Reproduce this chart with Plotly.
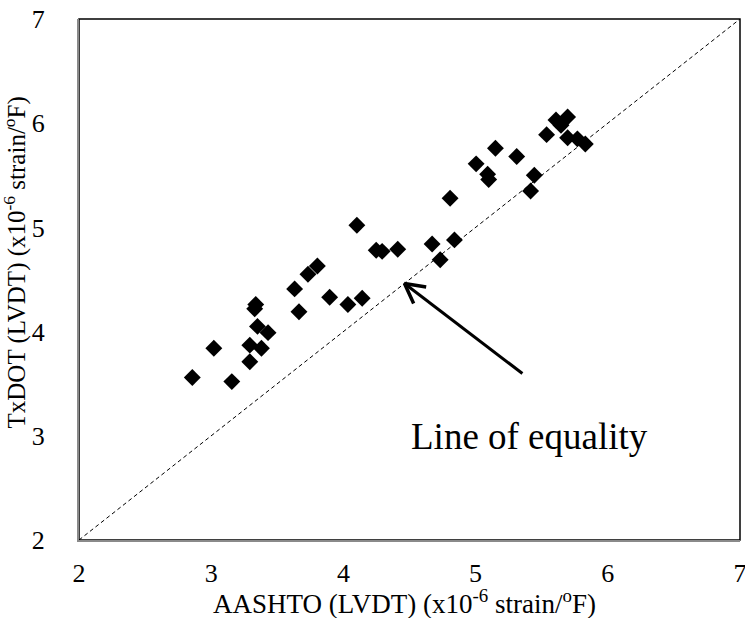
import math
import plotly.graph_objects as go

# Measured data (x10^-6 strain/°F)
aashto = [2.857, 3.156, 3.020, 3.292, 3.292, 3.380, 3.350, 3.430, 3.337, 3.329,
          3.631, 3.664, 3.732, 3.803, 3.896, 4.034, 4.142, 4.102, 4.248, 4.293,
          4.411, 4.671, 4.732, 4.840, 4.807, 5.004, 5.091, 5.099, 5.150, 5.311,
          5.416, 5.444, 5.537, 5.608, 5.646, 5.696, 5.696, 5.770, 5.830]
txdot = [3.56, 3.52, 3.84, 3.71, 3.87, 3.84, 4.05, 3.99, 4.26, 4.22,
         4.41, 4.19, 4.55, 4.63, 4.33, 4.26, 4.32, 5.02, 4.78, 4.77,
         4.79, 4.84, 4.69, 4.88, 5.28, 5.61, 5.51, 5.46, 5.76, 5.68,
         5.35, 5.50, 5.89, 6.03, 5.98, 6.06, 5.86, 5.85, 5.80]

equality_x = [2, 7]
equality_y = [2, 7]

arrow_x = [5.354, 4.462]   # tail -> head
arrow_y = [3.598, 4.462]

label_text = "Line of equality"
label_x = 5.41
label_y = 2.99

tick_vals = [2, 3, 4, 5, 6, 7]
x_title = "AASHTO (LVDT) (x10<sup>-6</sup> strain/<sup>o</sup>F)"
y_title = "TxDOT (LVDT) (x10<sup>-6</sup> strain/<sup>o</sup>F)"

FONT = "Liberation Serif, Times New Roman, serif"

W, H = 745, 618
ML, MR, MT, MB = 79, 5, 19, 78
XR = [2, 7]
YR = [2, 7]
px_per_x = (W - ML - MR) / (XR[1] - XR[0])
px_per_y = (H - MT - MB) / (YR[1] - YR[0])

fig = go.Figure()

fig.add_trace(go.Scatter(
    x=equality_x, y=equality_y, mode="lines",
    line=dict(color="black", width=1, dash="4px,3px"),
    hoverinfo="skip", showlegend=False))

fig.add_trace(go.Scatter(
    x=aashto, y=txdot, mode="markers",
    marker=dict(symbol="diamond", size=13, color="black"),
    showlegend=False))

# arrow shaft
fig.add_trace(go.Scatter(
    x=arrow_x, y=arrow_y, mode="lines",
    line=dict(color="black", width=3),
    hoverinfo="skip", showlegend=False))

# open chevron arrow head, built from the shaft direction in screen space
dxp = (arrow_x[0] - arrow_x[1]) * px_per_x
dyp = (arrow_y[0] - arrow_y[1]) * px_per_y
ang = math.atan2(dyp, dxp)
wing_len = 22
half = math.radians(28)
wx, wy = [], []
for s in (1, -1):
    a = ang + s * half
    wx.append(arrow_x[1] + wing_len * math.cos(a) / px_per_x)
    wy.append(arrow_y[1] + wing_len * math.sin(a) / px_per_y)
fig.add_trace(go.Scatter(
    x=[wx[0], arrow_x[1], wx[1]], y=[wy[0], arrow_y[1], wy[1]], mode="lines",
    line=dict(color="black", width=3.5),
    hoverinfo="skip", showlegend=False))

fig.add_annotation(x=label_x, y=label_y, text=label_text, showarrow=False,
                   font=dict(family=FONT, size=37, color="black"))

# axis titles
fig.add_annotation(xref="paper", yref="paper", x=0.5, y=0, yshift=-62, xshift=-5,
                   text=x_title, showarrow=False, xanchor="center", yanchor="middle",
                   font=dict(family=FONT, size=27, color="black"))
fig.add_annotation(xref="paper", yref="paper", x=0, y=0.5, xshift=-64, yshift=17,
                   text=y_title, showarrow=False, xanchor="center", yanchor="middle",
                   textangle=-90, font=dict(family=FONT, size=25, color="black"))

# plot area border (top/right black)
fig.add_shape(type="rect", xref="x domain", yref="y domain", x0=0, x1=1, y0=0, y1=1,
              line=dict(color="black", width=1.5), layer="below")

fig.update_xaxes(range=XR, tickvals=tick_vals, showgrid=False, zeroline=False,
                 showline=True, linecolor="#8a8a8a", linewidth=2, ticks="",
                 ticklabelstandoff=9, ticklabeloverflow="allow",
                 tickfont=dict(family=FONT, size=26, color="black"))
fig.update_yaxes(range=YR, tickvals=tick_vals, showgrid=False, zeroline=False,
                 showline=True, linecolor="#8a8a8a", linewidth=2, ticks="",
                 ticklabelstandoff=27,
                 tickfont=dict(family=FONT, size=26, color="black"))

fig.update_layout(width=W, height=H, margin=dict(l=ML, r=MR, t=MT, b=MB, autoexpand=False),
                  plot_bgcolor="white", paper_bgcolor="white", font=dict(family=FONT))

fig.write_html("out.html")
